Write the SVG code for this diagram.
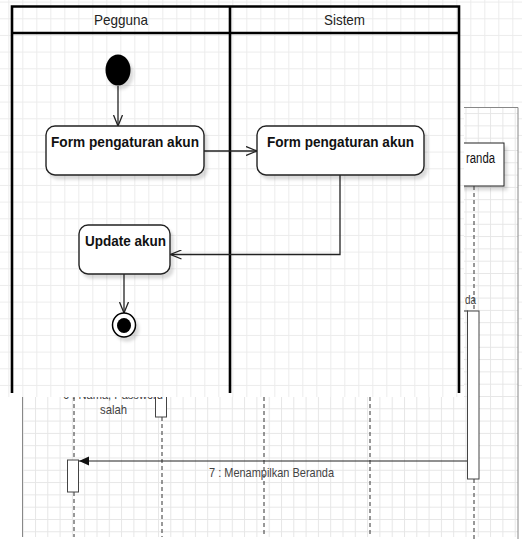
<svg xmlns="http://www.w3.org/2000/svg" width="522" height="539" viewBox="0 0 522 539">
  <defs>
    <style>
      .lane { stroke: #000; stroke-width: 2.6; fill: none; }
      .head { font-family: "Liberation Sans", Arial, sans-serif; font-size: 15px; fill: #222; text-anchor: middle; }
      .act { fill: #fff; stroke: #222; stroke-width: 1.4; filter: url(#shadow); }
      .label { font-family: "Liberation Sans", Arial, sans-serif; font-size: 15.5px; font-weight: bold; fill: #111; text-anchor: middle; }
      .flow { fill: none; stroke: #222; stroke-width: 1.3; marker-end: url(#open); }
      .life { stroke: #333; stroke-width: 1; stroke-dasharray: 4 3; fill: none; }
      .bar { fill: #fff; stroke: #444; stroke-width: 1; }
      .msg { font-family: "Liberation Sans", Arial, sans-serif; font-size: 13px; fill: #444; }
      .frame { stroke: #888; stroke-width: 1; fill: none; }
    </style>
    <pattern id="gridA" patternUnits="userSpaceOnUse" x="8.3" y="1.6" width="14" height="16.667">
      <path d="M0.5 0 V16.667 M0 0.5 H14" stroke="#ececec" stroke-width="1" fill="none"/>
    </pattern>
    <pattern id="gridS" patternUnits="userSpaceOnUse" x="22.7" y="2.4" width="12.3" height="12.3">
      <path d="M0.5 0 V12.3 M0 0.5 H12.3" stroke="#e6e6e6" stroke-width="1" fill="none"/>
    </pattern>
    <marker id="open" markerUnits="userSpaceOnUse" viewBox="0 0 12 10" refX="11.5" refY="5" markerWidth="12" markerHeight="10" orient="auto">
      <path d="M0.5 0.5 L11.5 5 L0.5 9.5" fill="none" stroke="#222" stroke-width="1.3"/>
    </marker>
    <marker id="solid" markerUnits="userSpaceOnUse" viewBox="0 0 10 10" refX="10" refY="5" markerWidth="10" markerHeight="10" orient="auto">
      <path d="M0 0.5 L10 5 L0 9.5 Z" fill="#111"/>
    </marker>
    <filter id="shadow" x="-20%" y="-20%" width="150%" height="150%">
      <feDropShadow dx="3" dy="4" stdDeviation="1.5" flood-color="#000" flood-opacity="0.14"/>
    </filter>
    <clipPath id="seqArea">
      <path d="M464 107 H522 V539 H22 V397 H464 Z"/>
    </clipPath>
  </defs>

  <!-- page -->
  <rect x="0" y="0" width="522" height="539" fill="#fff"/>
  <rect x="0" y="0" width="522" height="397" fill="url(#gridA)"/>

  <!-- sequence sheet underneath -->
  <g id="sequence" clip-path="url(#seqArea)">
    <rect x="22" y="107" width="496" height="432" fill="#fff"/>
    <rect x="22" y="107" width="496" height="430" fill="url(#gridS)"/>
    <path class="frame" d="M22.5 380 V537 M464 107.5 H518 V539"/>

    <!-- Beranda object -->
    <rect x="430" y="143" width="74" height="43" fill="#fff" stroke="#222" stroke-width="1" filter="url(#shadow)"/>
    <text x="466" y="163" font-family="'Liberation Sans', Arial, sans-serif" font-size="14" fill="#111" textLength="29" lengthAdjust="spacingAndGlyphs">randa</text>

    <!-- lifelines -->
    <path class="life" d="M474 186 V311 M474 479 V539"/>
    <path class="life" d="M74 397 V460 M74 492 V537"/>
    <path class="life" d="M162 417 V537"/>
    <path class="life" d="M264 397 V537"/>
    <path class="life" d="M370 397 V537"/>

    <!-- message into the Beranda bar -->
    <text class="msg" x="465" y="303.5" textLength="11" lengthAdjust="spacingAndGlyphs">da</text>
    <path d="M440 311 H468" stroke="#333" stroke-width="1" fill="none"/>

    <!-- activation bars -->
    <rect class="bar" x="467.5" y="311" width="11.5" height="168"/>
    <rect class="bar" x="155.5" y="380" width="11" height="37"/>
    <rect class="bar" x="67.5" y="460" width="11" height="32"/>

    <!-- partly covered message label -->
    <text class="msg" x="113" y="399" text-anchor="middle" textLength="100" lengthAdjust="spacingAndGlyphs">6 : Nama, Password</text>
    <text class="msg" x="113.5" y="414" text-anchor="middle" textLength="27" lengthAdjust="spacingAndGlyphs">salah</text>

    <!-- 7 : Menampilkan Beranda -->
    <path d="M467 461 H79" stroke="#222" stroke-width="1.2" fill="none" marker-end="url(#solid)"/>
    <text class="msg" x="271.5" y="476.5" text-anchor="middle" textLength="125" lengthAdjust="spacingAndGlyphs">7 : Menampilkan Beranda</text>
  </g>

  <!-- swimlanes -->
  <g id="lanes">
    <path class="lane" d="M12 393 V6.5 H459 V393 M12 33 H459 M230 6.5 V393"/>
    <text class="head" x="121" y="24.5" textLength="54" lengthAdjust="spacingAndGlyphs">Pegguna</text>
    <text class="head" x="344.5" y="24.5" textLength="41" lengthAdjust="spacingAndGlyphs">Sistem</text>
  </g>

  <!-- control flow -->
  <g id="connectors">
    <path class="flow" d="M118 86 V126"/>
    <path class="flow" d="M204 151 H257"/>
    <path class="flow" d="M340 175 V254.5 H170.5"/>
    <path class="flow" d="M124 274 V313"/>
  </g>

  <g id="start">
    <ellipse cx="118" cy="70" rx="12.5" ry="15.5" fill="#000" filter="url(#shadow)"/>
  </g>

  <g id="form-pengguna">
    <rect class="act" x="46" y="126" width="158" height="49" rx="9"/>
    <text class="label" x="125" y="146.5" textLength="148" lengthAdjust="spacingAndGlyphs">Form pengaturan akun</text>
  </g>

  <g id="form-sistem">
    <rect class="act" x="257" y="126" width="167" height="49" rx="9"/>
    <text class="label" x="340.5" y="146.5" textLength="147" lengthAdjust="spacingAndGlyphs">Form pengaturan akun</text>
  </g>

  <g id="update-akun">
    <rect class="act" x="79" y="225" width="91" height="49" rx="9"/>
    <text class="label" x="125.5" y="245.5" textLength="81" lengthAdjust="spacingAndGlyphs">Update akun</text>
  </g>

  <g id="end">
    <ellipse cx="124" cy="325" rx="11.5" ry="12" fill="#fff" stroke="#000" stroke-width="1.5" filter="url(#shadow)"/>
    <ellipse cx="124" cy="325.5" rx="7" ry="7.5" fill="#000"/>
  </g>
</svg>
